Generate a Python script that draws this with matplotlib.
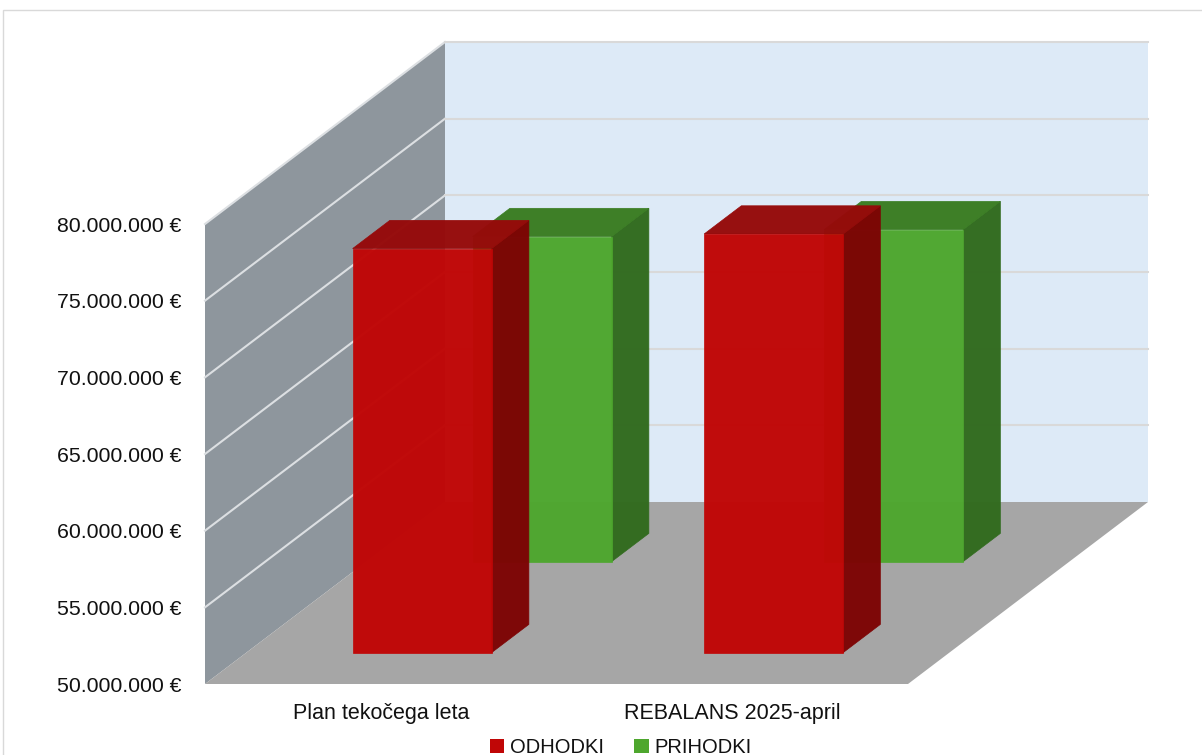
import matplotlib
matplotlib.use("Agg")
import matplotlib.pyplot as plt
from matplotlib.patches import Polygon, Patch, Rectangle
from matplotlib.ticker import FuncFormatter
from matplotlib import font_manager

# ---------------- data ----------------
categories = ["Plan tekočega leta", "REBALANS 2025-april"]
series_names = ["ODHODKI", "PRIHODKI"]
odhodki = [76_350_000, 77_300_000]
prihodki = [71_200_000, 71_650_000]
y_ticks = [50_000_000, 55_000_000, 60_000_000, 65_000_000, 70_000_000, 75_000_000, 80_000_000]

# ---------------- style ----------------
avail = {f.name for f in font_manager.fontManager.ttflist}
FONT = next((f for f in ["Liberation Sans", "Arial", "DejaVu Sans"] if f in avail), "DejaVu Sans")
plt.rcParams["font.family"] = [FONT, "DejaVu Sans"]

face_cols = {"ODHODKI": ("#C00606", "#960A0A", "#7D0404"),
             "PRIHODKI": ("#4EA72E", "#3A7D22", "#316B1E")}
SIDE_WALL = "#8E969D"
BACK_WALL = "#DDEAF7"
FLOOR = "#A6A6A6"
GRID = "#D9D9D9"

W_PX, H_PX = 1202, 755
fig = plt.figure(figsize=(W_PX / 100, H_PX / 100), dpi=100)

# layout (pixels) of the oblique 3-D box
FX0, FX1 = 205, 908       # front floor edge
FY = 684                  # front floor edge y (pixel from top)
PLOT_H = 460              # height of value range at front (pixels)
DEPTH_DX, DEPTH_DY = 240, 182

vmin, vmax = y_ticks[0], y_ticks[-1]
px_per_val = PLOT_H / (vmax - vmin)
px_per_cat = (FX1 - FX0) / len(categories)

ax = fig.add_axes([0, 0, 1, 1])
ax.set_xlim(-FX0 / px_per_cat, (W_PX - FX0) / px_per_cat)
ax.set_ylim(vmin - (H_PX - FY) / px_per_val, vmin + FY / px_per_val)
ax.axis("off")

DX = DEPTH_DX / px_per_cat
DY = DEPTH_DY / px_per_val
ncat = len(categories)


def P(x, d, v):
    return (x + d * DX, v + d * DY)


# chart border
fig.patches.append(Rectangle((3 / W_PX, -0.01), 1.2, (H_PX - 9.5) / H_PX + 0.01,
                             transform=fig.transFigure, fill=False,
                             edgecolor="#D9D9D9", linewidth=1.0))

# walls and floor
ax.add_patch(Polygon([P(0, 1, vmin), P(ncat, 1, vmin), P(ncat, 1, vmax), P(0, 1, vmax)],
                     closed=True, facecolor=BACK_WALL, edgecolor="none", zorder=1))
ax.add_patch(Polygon([P(0, 0, vmin), P(0, 1, vmin), P(0, 1, vmax), P(0, 0, vmax)],
                     closed=True, facecolor=SIDE_WALL, edgecolor="none", zorder=1))
ax.add_patch(Polygon([P(0, 0, vmin), P(ncat, 0, vmin), P(ncat, 1, vmin), P(0, 1, vmin)],
                     closed=True, facecolor=FLOOR, edgecolor="none", zorder=1))

# gridlines
for v in y_ticks[1:]:
    xs, ys = zip(P(0, 0, v), P(0, 1, v), P(ncat, 1, v))
    ax.plot(xs[:2], ys[:2], color="#DCDFE2", linewidth=1.5, zorder=2)
    ax.plot(xs[1:], ys[1:], color=GRID, linewidth=1.5, zorder=2)

# bars
BAR_W = 0.3955
BAR_D = 0.155
series = [("PRIHODKI", prihodki, 0.75), ("ODHODKI", odhodki, 0.25)]  # back first
z = 3
for name, vals, dc in series:
    front_c, top_c, side_c = face_cols[name]
    d0, d1 = dc - BAR_D / 2, dc + BAR_D / 2
    for i, val in enumerate(vals):
        x0, x1 = i + 0.5 - BAR_W / 2, i + 0.5 + BAR_W / 2
        right = [P(x1, d0, vmin), P(x1, d1, vmin), P(x1, d1, val), P(x1, d0, val)]
        top = [P(x0, d0, val), P(x1, d0, val), P(x1, d1, val), P(x0, d1, val)]
        front = [P(x0, d0, vmin), P(x1, d0, vmin), P(x1, d0, val), P(x0, d0, val)]
        for poly, c in ((right, side_c), (top, top_c), (front, front_c)):
            ax.add_patch(Polygon(poly, closed=True, facecolor=c, edgecolor=c,
                                 linewidth=0.5, alpha=0.975, zorder=z))
    z += 1

# axis (tick labels) helper aligned with the front plane
hax = fig.add_axes([FX0 / W_PX, (H_PX - FY) / H_PX, (FX1 - FX0) / W_PX, PLOT_H / H_PX])
hax.set_xlim(0, ncat)
hax.set_ylim(vmin, vmax)
hax.patch.set_visible(False)
for s in hax.spines.values():
    s.set_visible(False)
hax.set_yticks(y_ticks)
hax.yaxis.set_major_formatter(FuncFormatter(lambda v, p: f"{int(v):,}".replace(",", ".") + " €"))
hax.set_xticks([i + 0.5 for i in range(ncat)])
hax.set_xticklabels(categories)
hax.tick_params(axis="y", length=0, pad=17, labelsize=15.3, labelcolor="#111111")
hax.tick_params(axis="x", length=0, pad=14, labelsize=15.5, labelcolor="#111111")

# legend
handles = [Patch(facecolor=face_cols[n][0], edgecolor="none", label=n) for n in series_names]
fig.legend(handles=handles, loc="center", bbox_to_anchor=(0.5166, 7.5 / H_PX), ncol=2,
           frameon=False, fontsize=14.5, handlelength=0.7, handleheight=0.7,
           handletextpad=0.3, columnspacing=1.5, borderpad=0, labelcolor="#111111")

fig.savefig("out.png", dpi=100)
